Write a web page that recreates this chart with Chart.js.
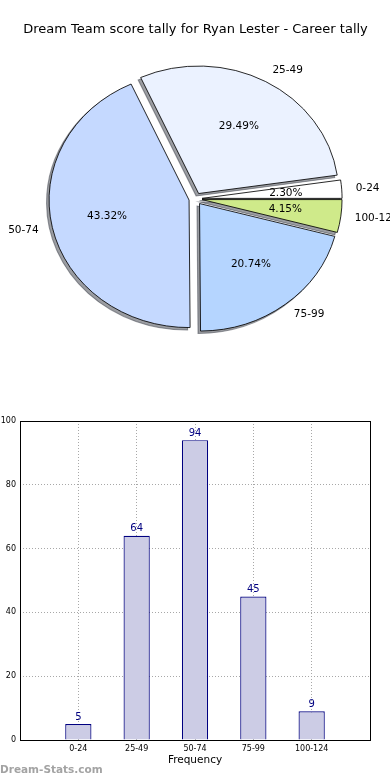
<!DOCTYPE html>
<html>
<head>
<meta charset="utf-8">
<script src="https://cdn.jsdelivr.net/npm/chart.js@4"></script>
<style>
  html, body { margin: 0; padding: 0; background: #fff; width: 390px; height: 780px; overflow: hidden; }
  #pieChart { position: absolute; left: 0; top: 0; }
  #barChart { position: absolute; left: 0; top: 410px; }
  #mark { position: absolute; left: 0; top: 763px; font: bold 10.5px "DejaVu Sans"; color: #a3a3a3; }
</style>
</head>
<body>
<canvas id="pieChart" width="390" height="410"></canvas>
<canvas id="barChart" width="390" height="370"></canvas>
<div id="mark">Dream-Stats.com</div>
<script>
const categories = ['0-24', '25-49', '50-74', '75-99', '100-124'];
const frequency = [5, 64, 94, 45, 9];
const sliceColors = ['#ffffff', '#ebf2ff', '#c5d9ff', '#b5d5ff', '#cfea8a'];
const yTicks = [0, 20, 40, 60, 80, 100];

Chart.defaults.font.family = '"DejaVu Sans", sans-serif';
Chart.defaults.color = '#000';

const total = frequency.reduce((a, b) => a + b, 0);

// matplotlib goes counter clockwise from 3 o'clock, chart.js clockwise -> reverse
const pieLabels = categories.slice().reverse();
const pieValues = frequency.slice().reverse();
const pieColors = sliceColors.slice().reverse();

const stretch = 140 / 127.5; // the original pie is a bit wider than tall
const explode = 6;
const shadow = [-2.5, 2.5];

const piePlugin = {
  id: 'mplPie',
  beforeDatasetDraw(chart, args) {
    const ctx = chart.ctx;
    const arcs = args.meta.data;
    const cx = arcs[0].x, cy = arcs[0].y;
    ctx.save();
    ctx.translate(cx, cy);
    ctx.scale(stretch, 1);
    ctx.translate(-cx, -cy);
    // shadows under every wedge first
    arcs.forEach(a => {
      const mid = (a.startAngle + a.endAngle) / 2;
      const x = a.x + Math.cos(mid) * explode + shadow[0] / stretch;
      const y = a.y + Math.sin(mid) * explode + shadow[1];
      ctx.beginPath();
      ctx.moveTo(x, y);
      ctx.arc(x, y, a.outerRadius, a.startAngle, a.endAngle);
      ctx.closePath();
      ctx.fillStyle = 'rgba(55,60,70,0.5)';
      ctx.strokeStyle = 'rgba(55,60,70,0.5)';
      ctx.lineWidth = 1;
      ctx.fill();
      ctx.stroke();
    });
    arcs.forEach(a => {
      const mid = (a.startAngle + a.endAngle) / 2;
      ctx.save();
      ctx.translate(Math.cos(mid) * explode, Math.sin(mid) * explode);
      a.draw(ctx);
      ctx.restore();
    });
    ctx.restore();
    return false;
  },
  afterDatasetsDraw(chart) {
    const ctx = chart.ctx;
    const arcs = chart.getDatasetMeta(0).data;
    ctx.save();
    ctx.font = '10.5px "DejaVu Sans"';
    ctx.fillStyle = '#000';
    ctx.textBaseline = 'middle';
    arcs.forEach((a, i) => {
      const mid = (a.startAngle + a.endAngle) / 2;
      const c = Math.cos(mid), s = Math.sin(mid);
      const r1 = explode + 1.1 * a.outerRadius;
      ctx.textAlign = c > 0 ? 'left' : 'right';
      ctx.fillText(pieLabels[i], a.x + c * r1 * stretch, a.y + s * r1);
      const r2 = explode + 0.6 * a.outerRadius;
      ctx.textAlign = 'center';
      ctx.fillText((pieValues[i] / total * 100).toFixed(2) + '%', a.x + c * r2 * stretch, a.y + s * r2);
    });
    ctx.restore();
  }
};

new Chart(document.getElementById('pieChart'), {
  type: 'pie',
  data: {
    labels: pieLabels,
    datasets: [{
      data: pieValues,
      backgroundColor: pieColors,
      borderColor: '#000',
      borderWidth: 0.8
    }]
  },
  options: {
    responsive: false,
    animation: false,
    rotation: 90,
    radius: 127.5,
    layout: { padding: { left: 1, right: 0, top: 0, bottom: 50 } },
    plugins: {
      legend: { display: false },
      tooltip: { enabled: false },
      title: {
        display: true,
        text: 'Dream Team score tally for Ryan Lester - Career tally',
        font: { size: 13, weight: 'normal' },
        color: '#000',
        padding: { top: 22, bottom: 0 }
      }
    }
  },
  plugins: [piePlugin]
});

const barPlugin = {
  id: 'barExtras',
  afterDatasetsDraw(chart) {
    const ctx = chart.ctx;
    const area = chart.chartArea;
    ctx.save();
    ctx.font = '10px "DejaVu Sans"';
    ctx.fillStyle = '#000080';
    ctx.textAlign = 'center';
    ctx.textBaseline = 'bottom';
    chart.getDatasetMeta(0).data.forEach((bar, i) => {
      ctx.fillText(String(frequency[i]), bar.x, bar.y - 2);
    });
    ctx.strokeStyle = '#000';
    ctx.lineWidth = 1;
    ctx.strokeRect(Math.round(area.left) + 0.5, Math.round(area.top) + 0.5,
      Math.round(area.right - area.left), Math.round(area.bottom - area.top));
    ctx.restore();
  }
};

new Chart(document.getElementById('barChart'), {
  type: 'bar',
  data: {
    datasets: [{
      data: categories.map((c, i) => ({ x: i, y: frequency[i] })),
      backgroundColor: '#ccccE5',
      borderColor: '#000080',
      borderWidth: 1.2,
      barPercentage: 0.45,
      categoryPercentage: 1
    }]
  },
  options: {
    responsive: false,
    animation: false,
    layout: { padding: { left: 0, right: 20, top: 11, bottom: 0 } },
    plugins: { legend: { display: false }, tooltip: { enabled: false } },
    scales: {
      x: {
        type: 'linear',
        min: -1,
        max: 5,
        offset: false,
        afterFit: s => { s.height = 40; },
        ticks: {
          stepSize: 1,
          autoSkip: false,
          maxRotation: 0,
          padding: 4,
          font: { size: 8 },
          callback: v => categories[v] || ''
        },
        grid: { color: '#a8a8a8', lineWidth: 1, drawTicks: false, offset: false },
        border: { display: false, dash: [1, 2] },
        title: { display: true, text: 'Frequency', font: { size: 10.5 }, padding: 13 }
      },
      y: {
        min: 0,
        max: 100,
        afterFit: s => { s.width = 20; },
        afterBuildTicks: s => { s.ticks = yTicks.map(v => ({ value: v })); },
        ticks: { padding: 4, font: { size: 8 } },
        grid: { color: '#a8a8a8', lineWidth: 1, drawTicks: false },
        border: { display: false, dash: [1, 2] }
      }
    }
  },
  plugins: [barPlugin]
});
</script>
</body>
</html>
